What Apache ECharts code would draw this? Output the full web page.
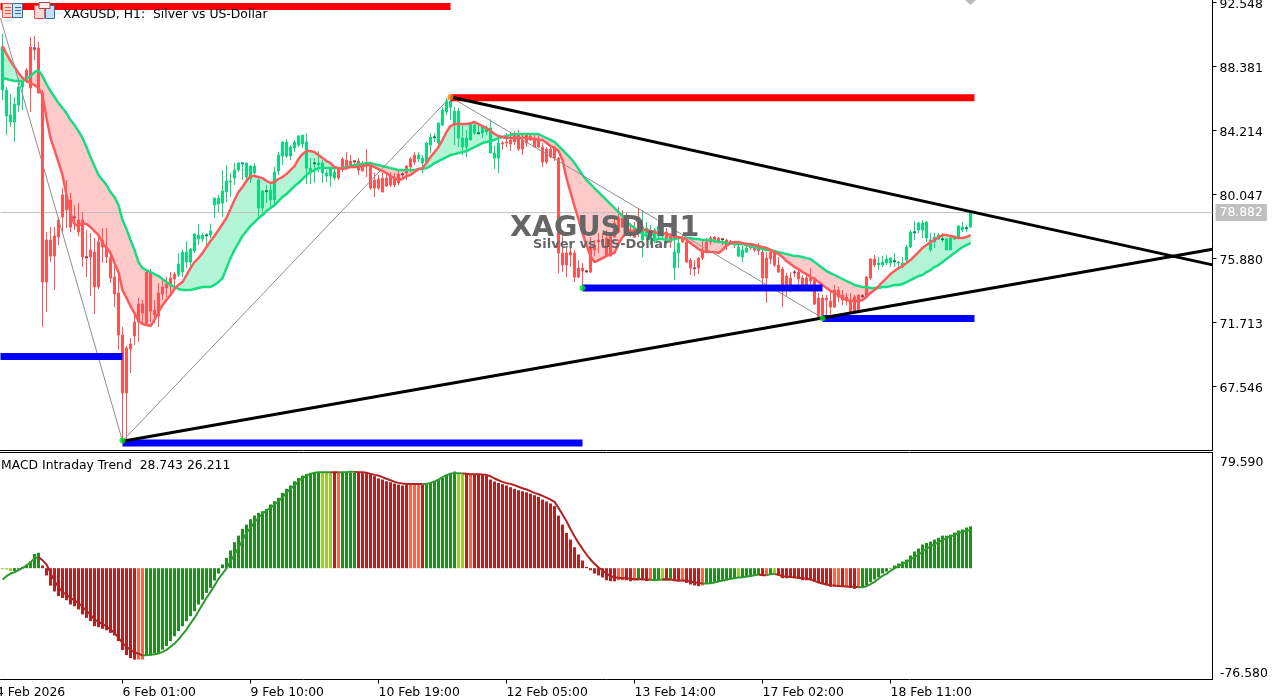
<!DOCTYPE html>
<html><head><meta charset="utf-8">
<style>html,body{margin:0;padding:0;background:#fff}#c{width:1282px;height:700px}</style>
<script src="https://cdn.jsdelivr.net/npm/echarts@6/dist/echarts.min.js"></script>
</head><body><div id="c"></div>
<script>
const opens=[86.86,85.17,84.78,84.78,85.88,87.06,88.16,89.66,89.60,89.60,
86.67,77.10,77.10,77.36,78.40,80.03,80.03,79.70,78.59,78.40,
78.40,75.99,76.45,76.31,76.97,77.10,76.64,75.92,74.69,73.65,
70.91,70.07,70.33,71.76,72.93,72.93,75.01,75.01,72.54,73.65,
74.04,74.23,74.62,74.88,74.82,75.01,75.66,75.66,76.38,77.16,
77.16,77.36,77.42,79.38,79.44,79.50,80.22,80.87,81.13,81.65,
82.04,81.20,81.07,81.46,79.18,79.18,80.22,79.70,79.70,81.59,
82.56,82.56,82.56,83.09,83.28,83.35,81.78,81.46,82.04,81.98,
81.46,81.26,81.26,81.13,81.72,82.37,82.30,82.24,82.24,82.24,
81.91,82.04,81.98,81.00,81.07,81.13,81.13,81.26,81.13,81.39,
81.39,81.91,82.37,82.63,82.37,82.11,82.17,83.28,83.74,83.41,
84.58,85.43,85.75,84.65,83.74,83.15,83.15,83.61,84.06,84.00,
84.06,84.13,82.76,82.43,82.43,83.41,83.48,83.61,83.87,83.93,
83.61,83.93,83.87,83.74,83.54,83.15,83.02,83.02,83.15,82.43,
76.25,76.25,76.31,76.25,75.27,75.27,75.08,76.64,76.77,77.10,
77.03,77.23,77.42,78.20,78.59,78.53,78.20,77.75,77.88,78.59,
77.10,77.55,77.10,77.23,77.36,77.36,77.62,77.42,75.27,76.25,
77.23,76.97,75.79,75.27,75.92,76.45,76.97,77.23,77.29,77.23,
77.16,77.10,77.03,76.97,76.05,75.99,76.31,76.71,76.64,76.58,
76.31,75.92,76.31,76.31,75.47,75.21,74.75,74.62,75.01,75.01,
74.62,74.62,74.62,74.49,73.32,73.32,73.32,73.12,73.84,73.84,
73.52,73.39,73.19,73.39,73.52,73.45,74.69,75.86,75.86,75.47,
75.47,75.60,75.60,75.66,75.60,75.34,75.79,76.64,77.55,77.75,
77.75,77.23,76.45,76.97,77.16,77.10,76.45,76.45,77.16,77.23,
77.75,77.81,77.94];
const highs=[90.51,87.06,86.60,86.41,87.64,87.71,88.29,90.31,90.38,89.99,
86.86,77.62,77.94,77.94,78.59,80.48,81.00,80.16,79.37,79.50,
78.92,77.75,77.55,77.23,77.42,77.88,77.88,76.45,75.47,74.95,
71.43,70.20,70.72,72.34,73.32,73.19,75.14,75.21,73.19,74.30,
74.49,74.69,75.01,75.01,76.25,76.45,77.03,76.57,77.55,78.14,
77.55,77.55,78.14,79.83,80.03,81.65,81.98,81.46,82.11,82.17,
82.11,82.11,81.98,82.11,81.13,80.35,80.68,80.74,81.85,82.82,
83.54,83.67,83.28,83.61,83.93,83.93,84.06,82.43,82.43,82.89,
82.30,81.65,81.85,81.85,81.78,82.50,82.82,82.63,82.24,82.43,
82.24,83.02,82.17,81.46,81.33,81.46,81.46,81.52,81.46,81.65,
81.52,81.98,82.50,82.82,82.82,82.63,83.48,84.06,84.06,84.78,
85.75,86.34,86.41,85.75,85.69,84.58,84.26,84.78,84.71,84.58,
84.58,84.58,84.97,83.28,83.74,83.54,84.06,84.13,84.19,84.26,
84.06,84.06,84.06,84.06,83.93,83.41,83.15,83.15,83.22,82.50,
77.75,76.58,76.64,76.45,75.79,75.60,75.14,77.29,77.10,77.55,
77.55,77.75,77.55,78.59,79.24,79.05,78.85,78.20,78.27,79.18,
79.05,78.27,78.07,77.88,78.40,78.40,77.88,77.55,77.23,77.23,
77.42,77.23,75.92,75.79,75.99,77.10,77.23,77.36,77.36,77.29,
77.23,77.16,77.10,77.03,76.77,76.71,76.71,76.84,76.77,76.90,
76.58,76.31,76.45,76.45,75.99,75.34,74.95,75.01,75.14,75.14,
74.82,74.95,75.27,74.69,73.65,73.52,73.52,73.71,74.17,74.04,
73.84,73.65,73.65,73.52,73.58,73.58,74.75,75.92,76.12,75.99,
76.05,76.12,75.99,76.25,75.73,75.99,76.77,77.75,78.33,78.27,
78.40,78.33,77.55,77.55,77.55,77.55,77.23,77.36,77.42,78.07,
78.27,78.07,78.85];
const lows=[86.21,83.93,84.45,83.48,85.43,85.56,87.32,85.43,88.81,86.60,
71.43,72.41,75.66,73.84,76.77,77.62,77.88,77.62,77.75,77.36,
75.34,74.69,73.45,72.28,73.91,75.60,75.60,74.30,72.73,69.94,
64.01,64.08,68.44,70.26,70.46,71.69,71.56,71.76,71.69,71.43,
73.19,73.39,73.52,73.97,74.69,74.69,75.27,75.34,76.25,76.77,
76.97,76.64,77.23,78.53,78.92,78.59,79.57,79.90,80.68,81.52,
81.00,80.87,80.81,81.20,78.53,78.85,79.50,79.11,79.37,81.33,
81.98,82.43,82.30,82.82,83.15,83.09,80.74,80.74,80.81,81.52,
80.81,80.87,80.55,81.00,81.00,81.52,81.65,81.78,81.78,81.33,
81.59,81.20,80.35,79.90,80.35,80.22,80.55,80.55,80.55,80.68,
81.13,81.00,81.52,81.98,82.17,81.46,81.98,82.76,83.48,83.09,
84.52,85.23,84.91,83.28,83.15,82.63,82.50,83.61,83.93,83.93,
83.74,83.93,82.76,81.72,81.46,82.96,83.15,82.89,83.28,82.89,
82.63,83.15,83.54,83.15,83.09,81.85,82.04,82.43,82.24,74.95,
75.01,74.69,75.34,74.36,74.62,74.17,74.95,74.95,76.05,76.25,
76.58,76.05,76.05,77.23,77.55,77.88,77.62,77.29,77.23,77.29,
75.99,77.10,76.77,76.90,77.10,77.10,76.84,76.58,74.49,75.27,
76.90,75.60,74.82,74.75,74.88,75.79,76.25,76.77,76.90,76.90,
76.77,76.45,76.77,76.58,75.99,75.66,76.25,76.45,76.31,76.12,
74.17,73.00,75.53,75.34,74.95,72.73,73.39,73.71,74.69,74.04,
74.04,73.84,74.10,72.86,72.08,72.02,72.21,72.21,72.67,73.06,
72.86,72.86,72.34,72.34,72.34,73.32,73.32,74.49,75.34,75.14,
75.34,75.47,75.34,75.34,75.14,75.27,75.66,76.58,77.10,77.55,
77.23,76.97,76.31,76.58,77.10,76.97,76.45,76.45,77.10,77.16,
77.62,77.62,77.88];
const closes=[89.66,86.86,85.23,85.95,87.06,87.38,87.58,86.99,89.47,86.67,
74.36,74.36,76.05,76.05,77.29,78.59,79.05,77.94,78.53,77.62,
75.99,75.92,75.99,74.04,74.04,76.64,75.99,74.62,73.58,70.91,
67.14,67.14,70.00,70.85,71.76,72.34,71.69,72.47,72.21,72.15,
73.58,73.97,74.10,74.56,75.53,76.31,76.31,76.51,77.49,77.42,
77.42,77.42,77.68,79.83,79.83,80.29,80.94,80.94,81.65,82.11,
82.11,82.11,81.91,81.91,81.00,80.29,80.29,80.35,81.52,82.63,
83.48,83.48,83.15,83.48,83.87,83.93,83.48,81.78,82.11,82.11,
82.11,81.46,81.78,81.52,81.13,81.85,81.91,81.91,82.17,81.65,
81.59,81.91,80.48,80.48,80.48,80.22,80.61,80.68,80.68,80.81,
81.33,81.46,81.85,82.17,82.63,82.43,83.41,83.80,83.80,84.71,
85.56,86.14,86.14,85.49,85.49,83.74,83.74,84.71,84.58,84.06,
84.45,84.39,84.39,82.76,83.41,83.35,83.41,83.35,83.48,83.02,
83.02,83.41,83.74,83.15,83.15,82.17,82.17,82.50,82.43,76.25,
75.47,75.47,76.12,74.69,74.69,75.08,75.01,75.01,76.45,76.97,
76.97,76.12,76.05,77.29,77.62,77.94,77.94,77.42,77.29,77.62,
77.94,77.88,77.62,77.75,78.01,78.14,77.10,76.97,76.31,76.90,
76.97,75.66,75.27,75.21,75.27,75.92,76.31,76.97,76.97,76.97,
77.10,76.77,76.90,76.77,76.64,76.45,76.58,76.58,76.45,76.38,
74.62,74.62,75.86,75.47,75.01,74.04,74.17,74.17,74.95,74.56,
74.17,74.17,74.43,72.93,72.08,72.15,73.19,72.73,72.73,73.39,
73.19,73.19,72.34,72.34,72.41,73.39,73.39,74.62,75.47,75.60,
75.66,75.86,75.92,75.73,75.66,75.60,76.64,77.62,77.62,78.20,
78.20,78.27,77.10,77.29,77.42,77.16,77.16,77.23,77.29,78.01,
77.94,77.88,78.88];
const fastMA=[89.73,89.21,88.75,88.36,87.97,87.64,87.45,87.32,87.19,86.99,
86.54,85.04,83.74,82.96,82.17,81.33,80.03,78.85,78.14,78.01,
78.20,78.14,77.94,77.68,77.42,76.90,76.58,76.25,75.60,75.01,
73.84,73.32,72.80,72.34,71.82,71.63,71.56,71.50,71.89,72.41,
72.86,73.19,73.52,73.91,74.17,74.36,74.82,75.27,75.66,75.92,
76.25,76.64,77.03,77.36,77.75,78.14,78.53,79.11,79.70,80.22,
80.55,80.94,81.26,81.26,81.20,81.13,80.94,80.81,80.87,81.07,
81.20,81.39,81.65,81.91,82.37,82.69,82.89,82.89,82.82,82.63,
82.43,82.24,82.11,81.85,81.78,81.72,81.78,81.85,81.85,81.85,
81.91,81.98,81.98,81.85,81.72,81.59,81.46,81.26,81.13,81.00,
81.07,81.26,81.33,81.52,81.72,81.78,82.11,82.50,82.82,83.15,
83.61,84.13,84.52,84.65,84.65,84.65,84.65,84.71,84.78,84.65,
84.52,84.39,84.19,84.00,83.87,83.80,83.74,83.74,83.74,83.74,
83.74,83.74,83.67,83.67,83.61,83.61,83.41,83.22,83.09,82.89,
82.30,81.13,80.22,79.31,78.46,77.55,76.77,76.05,75.66,75.79,
75.92,76.05,76.18,76.25,76.84,77.29,77.55,77.62,77.68,77.75,
77.75,77.75,77.68,77.62,77.55,77.55,77.49,77.42,77.29,77.29,
77.23,77.10,76.90,76.71,76.51,76.38,76.31,76.31,76.31,76.25,
76.45,76.71,76.90,76.97,76.97,76.90,76.84,76.84,76.77,76.71,
76.64,76.58,76.45,76.31,76.18,75.99,75.73,75.53,75.34,75.21,
75.01,74.88,74.69,74.56,74.36,74.17,73.97,73.78,73.65,73.52,
73.32,73.19,73.12,73.12,73.12,73.19,73.39,73.65,73.84,74.10,
74.36,74.62,74.88,75.08,75.27,75.40,75.60,75.79,76.05,76.31,
76.58,76.77,76.97,77.10,77.29,77.42,77.42,77.36,77.29,77.23,
77.23,77.29,77.42];
const slowMA=[87.64,87.58,87.51,87.45,87.45,87.45,87.58,87.77,88.03,88.16,
87.77,87.25,86.80,86.41,86.01,85.69,85.36,84.91,84.58,84.19,
83.74,83.15,82.50,81.91,81.33,81.00,80.68,80.22,79.90,79.37,
78.40,77.81,77.10,76.45,75.66,75.27,75.14,75.01,74.88,74.75,
74.56,74.36,74.17,74.04,73.91,73.84,73.84,73.84,73.91,73.97,
74.04,74.04,74.04,74.17,74.36,74.62,75.27,75.92,76.45,76.90,
77.36,77.68,78.01,78.27,78.53,78.72,78.98,79.18,79.37,79.63,
79.90,80.09,80.35,80.61,80.81,81.07,81.33,81.52,81.65,81.78,
81.78,81.78,81.78,81.78,81.78,81.78,81.85,81.91,81.98,82.04,
82.04,82.11,82.11,82.04,81.98,81.91,81.85,81.78,81.72,81.65,
81.65,81.65,81.65,81.65,81.72,81.72,81.78,81.91,82.11,82.24,
82.37,82.50,82.63,82.69,82.76,82.82,82.89,83.02,83.15,83.28,
83.41,83.48,83.54,83.61,83.74,83.80,83.87,83.93,84.00,84.00,
84.00,84.00,84.00,84.00,84.00,83.87,83.74,83.61,83.48,83.22,
82.96,82.69,82.43,82.11,81.72,81.33,81.00,80.74,80.48,80.22,
79.96,79.70,79.44,79.18,78.92,78.66,78.33,78.07,77.88,77.68,
77.49,77.36,77.16,77.10,77.16,77.16,77.10,77.10,77.16,77.23,
77.23,77.23,77.23,77.16,77.16,77.10,77.10,77.10,77.03,76.97,
76.97,76.90,76.90,76.84,76.84,76.84,76.77,76.71,76.64,76.58,
76.51,76.45,76.45,76.38,76.31,76.25,76.18,76.12,76.05,76.05,
75.99,75.92,75.86,75.66,75.47,75.27,75.08,74.95,74.82,74.69,
74.56,74.43,74.30,74.17,74.10,74.04,74.04,73.97,73.97,73.97,
74.04,74.04,74.10,74.17,74.17,74.23,74.36,74.49,74.62,74.75,
74.82,75.01,75.14,75.34,75.47,75.66,75.86,76.05,76.25,76.45,
76.64,76.77,76.90];
const macdHist=[-0.7,-0.9,-1.9,-1.9,-0.9,0.9,2.5,4.7,9.8,10.6,
1.8,-5,-12,-16,-19.2,-20.5,-22,-25,-26.2,-28.4,
-31.8,-34.2,-36.4,-39.9,-40.6,-41.7,-42.7,-44.5,-46.3,-50.2,
-56.4,-59.8,-61.9,-62.9,-62.9,-62.9,-60.5,-60.1,-58.7,-58.3,
-56,-53.6,-50.2,-46.8,-43.3,-39.9,-36.5,-33,-29.6,-25,
-21.6,-17,-13.5,-8.5,-3.7,2.5,7.1,12.2,17.9,22.4,
27.1,30,33.7,36.2,38.1,39.2,40.8,43.8,46.1,48.4,
51.8,54.6,56.9,59.8,62.1,63.7,64.9,65.6,65.6,65.6,
65.6,65.6,65.6,65.6,65.6,65.6,65.6,65.6,65.6,65.6,
65.4,65.4,65.1,63.3,61.7,61,59.8,59.1,58.2,57.5,
56.9,57.3,57.3,57.3,57.3,57.3,57.8,58.7,59.6,61,
62.1,64.2,65.6,66.5,64.7,64.7,64.7,64.7,64.7,64.4,
64.2,63.7,61,59.6,58.7,57.8,56.9,55.7,54.6,53.6,
52.9,52.2,51.3,50.2,49.1,47.2,45.9,44.5,42.7,36.2,
30,24.3,19.7,14.4,9.4,5.3,0.9,-1.4,-3.7,-5,
-6.4,-8.3,-9,-9,-8.3,-8.3,-8.3,-9,-8.5,-7.8,
-8.3,-8.9,-8.3,-8.7,-8.3,-7.1,-7.8,-7.8,-8.9,-9.2,
-9.2,-10.1,-11.2,-11.9,-12.4,-11.9,-10.5,-10.5,-10.1,-9.4,
-8.5,-8.3,-7.8,-7.1,-6.6,-6.4,-6.2,-5.9,-5,-4.4,
-4.8,-4.4,-3.9,-3.4,-5,-6.9,-6.9,-6.6,-6.9,-7.3,
-8.3,-8.3,-8,-9.2,-10.1,-11,-11.7,-12.8,-12.8,-12.8,
-12.8,-13.1,-13.5,-14.2,-13.1,-12.8,-11.9,-9.6,-7.8,-6.2,
-3.7,-2.3,-0.4,1.8,3.2,4.6,5.9,8.7,11.5,13.5,
16.3,17.4,18.3,19.7,20.9,22.4,22.4,23.1,24.5,25.9,
26.6,28,28.743];
const macdLine=[-7.8,-5.5,-3.7,-2.8,-1.4,0,1.8,4,6.9,7.6,
5.5,2.5,-3.2,-8.9,-13,-16.5,-18.3,-20.4,-22.2,-24,
-26.6,-29.3,-32,-35.3,-36.9,-38.5,-40.1,-42.2,-44.5,-47.9,
-51.4,-54.1,-56.2,-57.8,-58.9,-60,-59.8,-59.6,-59.2,-58.7,
-57.6,-56.2,-54.1,-51.8,-49,-45.6,-42.2,-38,-34.2,-29.6,
-25,-20.4,-16.3,-12,-7.3,-3.7,-0.2,4.8,9.4,14,
19.3,24.3,27.7,31.6,34.6,37.4,39.7,41.5,43.8,46,
48.8,51.8,54.6,56.9,59.8,62,63.7,64.9,65.6,66,
66,66,66,66,66,66,66,66.3,66.3,66,
66,65.6,64.9,64.2,63.7,62.6,61.5,60.5,59.4,58.7,
58.2,58,58,58,58,58,58,58.7,59.6,61,
62.6,64,64.9,65.4,65.4,65.1,64.9,64.7,64.7,64.7,
64.4,64.2,63.3,61.7,60.5,59.4,58.5,58,57.1,56,
55,54.1,53,51.8,50.9,49.8,48.6,47.2,45.6,41.5,
36.9,32.3,27,22,17.4,13.3,9.4,6,3,0.5,
-1.4,-3.7,-5.5,-6.2,-6.6,-6.9,-6.9,-7.3,-7.6,-7.6,
-7.6,-7.8,-8,-8.3,-8,-7.8,-7.6,-7.8,-8.3,-8.5,
-8.5,-8.7,-9.2,-9.9,-10.1,-10.5,-10.5,-10.3,-9.9,-9.2,
-8.5,-8,-7.3,-6.9,-6.4,-6.2,-5.7,-5.3,-4.8,-4.4,
-4.8,-4.8,-4.1,-3.9,-4.6,-5.5,-5.7,-6,-6.2,-6.6,
-6.9,-7.1,-7.8,-8.7,-9.9,-10.5,-11.2,-11.7,-11.9,-12.2,
-12.4,-12.6,-12.8,-12.8,-13.1,-13.1,-12.4,-11,-9.4,-7.3,
-5.3,-3.9,-1.8,-0.2,1.4,3,4.4,6,7.6,9.2,
11.5,13.3,15.1,16.3,17.9,19.3,20.9,21.8,22.9,24.1,
25.2,25.8,26.211];
const histColorRuns=[['L',3],['G',7],['R',24],['T',2],['G',44],['L',3],['R',1],['T',1],['G',4],['R',13],['T',3],['R',1],['G',8],['L',2],['R',1],['T',1],['R',36],['T',2],['R',2],['T',1],['G',1],['R',2],['T',1],['G',2],['L',1],['R',1],['G',1],['R',2],['T',1],['R',4],['T',1],['G',8],['L',1],['G',5],['R',1],['T',1],['G',1],['L',1],['R',14],['T',2],['R',1],['T',1],['R',2],['T',1],['G',28]];
const priceTicks=[92.548,88.381,84.214,80.047,75.880,71.713,67.546];
const macdTicks=[79.590,-76.580];
const lastPrice=78.882;
const timeTicks={30:'6 Feb 01:00',62:'9 Feb 10:00',94:'10 Feb 19:00',126:'12 Feb 05:00',158:'13 Feb 14:00',190:'17 Feb 02:00',222:'18 Feb 11:00'};
const firstTimeLabel='4 Feb 2026';
const zigzag=[[-0.5,91.55],[30,64.01],[112,86.41],[205,72.02]];
const upperTrend=[[112,86.41],[302.5,75.48]];
const lowerTrend=[[30,64.0],[302.5,76.50]];
const resistanceLevels=[[[-0.5,92.30],[112,92.30]],[[112,86.36],[243,86.36]]];
const supportLevels=[[[-0.5,69.51],[30,69.51]],[[30,63.88],[145,63.88]],[[145,73.97],[205,73.97]],[[205,71.99],[243,71.99]]];
const greenPivots=[[30,64.05],[145,73.97],[205,72.0]];
const orangePivots=[[112,86.41]];
const dojiBlue=[[8,89.60],[18,78.59],[60,82.11],[150,77.03],[173,75.27],[198,75.01]];
const dojiBlack=[[21,75.99],[51,77.42],[66,80.29],[78,82.11],[88,82.24],[100,81.39],[108,83.80],[119,84.06],[146,75.08],[180,77.16],[215,73.45],[223,75.73],[228,77.62],[235,77.16],[241,77.88]];
const titleText='XAGUSD, H1:  Silver vs US-Dollar';
const macdTitle='MACD Intraday Trend  28.743 26.211';
const watermark='XAGUSD,H1';
const watermarkSub='Silver vs US-Dollar';

const SLOTS=303, FONT='"DejaVu Sans",sans-serif', FS=12.4;
const UP='#0BD97A',DOWN='#FF5252',FAST='#FF5A5A',SLOW='#16DC82';
const PAL={G:'#228B22',L:'#9ACD32',R:'#B22222',T:'#FF6347'};
const keys=[];histColorRuns.forEach(([k,n])=>{for(let j=0;j<n;j++)keys.push(k)});
const cats=Array.from({length:SLOTS},(_,i)=>timeTicks[i]||String(i));
const candle=opens.map((o,i)=>[o,closes[i],lows[i],highs[i]]);
const isGreen=k=>k==='G'||k==='L';
const gLine=macdLine.map((v,i)=>(isGreen(keys[i])||(i<keys.length-1&&isGreen(keys[i+1])))?v:null);
const rLine=macdLine.map((v,i)=>(!isGreen(keys[i])||(i<keys.length-1&&!isGreen(keys[i+1])))?v:null);
const band=fastMA.slice(0,-1).map((f,i)=>[i,f,slowMA[i],fastMA[i+1],slowMA[i+1]]);
const lineS=(name,data,color,width,z,extra)=>Object.assign({name,type:'line',xAxisIndex:2,yAxisIndex:0,data,symbol:'none',silent:true,animation:false,z,lineStyle:{color,width,cap:'butt'}},extra||{});
const dash=(name,data,color)=>({type:'scatter',name,xAxisIndex:2,yAxisIndex:0,data,symbol:'rect',symbolSize:[3,1],itemStyle:{color},z:4,silent:true,animation:false});

const series=[
 {type:'custom',name:'band',xAxisIndex:0,yAxisIndex:0,z:1,silent:true,animation:false,data:band,encode:{x:0,y:1},
  renderItem:(p,api)=>{const a=api.coord([api.value(0),api.value(1)]),b=api.coord([api.value(0)+1,api.value(3)]),c=api.coord([api.value(0)+1,api.value(4)]),d=api.coord([api.value(0),api.value(2)]);
   const col=(api.value(1)+api.value(3))>(api.value(2)+api.value(4))?'#B2F5D6':'#FFC9C9';
   return {type:'polygon',shape:{points:[a,b,c,d]},style:{fill:col,stroke:col,lineWidth:0.6}};}},
 lineS('last',[[-0.5,lastPrice],[302.5,lastPrice]],'#C0C0C0',1,2,{endLabel:{show:true,formatter:()=>lastPrice.toFixed(3),color:'#fff',backgroundColor:'#C0C0C0',padding:[3,4,2,4],fontFamily:FONT,fontSize:FS,distance:3}}),
 {type:'candlestick',name:'XAGUSD',xAxisIndex:0,yAxisIndex:0,data:candle,barWidth:3,z:3,silent:true,animation:false,
  itemStyle:{color:UP,color0:DOWN,borderColor:UP,borderColor0:DOWN,borderWidth:1}},
 dash('dojiBlue',dojiBlue,'#2020D0'),
 dash('dojiBlack',dojiBlack,'#101010'),
 {type:'line',name:'slow',xAxisIndex:0,yAxisIndex:0,data:slowMA,symbol:'none',z:4,silent:true,animation:false,lineStyle:{color:SLOW,width:2.5}},
 {type:'line',name:'fast',xAxisIndex:0,yAxisIndex:0,data:fastMA,symbol:'none',z:5,silent:true,animation:false,lineStyle:{color:FAST,width:2.5}},
 lineS('zigzag',zigzag,'#8E8E8E',1,6),
];
resistanceLevels.forEach((d,i)=>series.push(lineS('res'+i,d,'#FF0000',7,7)));
supportLevels.forEach((d,i)=>series.push(lineS('sup'+i,d,'#0000FF',7,7)));
series.push(lineS('upper',upperTrend,'#000',3,8),lineS('lower',lowerTrend,'#000',3,8));
series.push({type:'scatter',name:'gp',xAxisIndex:2,yAxisIndex:0,data:greenPivots,symbolSize:6,itemStyle:{color:'#00E020'},z:9,silent:true,animation:false});
series.push({type:'scatter',name:'op',xAxisIndex:2,yAxisIndex:0,data:orangePivots,symbolSize:6,itemStyle:{color:'#FF9000'},z:9,silent:true,animation:false});
series.push({type:'bar',name:'hist',xAxisIndex:1,yAxisIndex:1,barWidth:3,z:3,silent:true,animation:false,
  data:macdHist.map((v,i)=>({value:v,itemStyle:{color:PAL[keys[i]]}}))});
series.push({type:'line',name:'sigG',xAxisIndex:1,yAxisIndex:1,data:gLine,symbol:'none',z:4,silent:true,animation:false,lineStyle:{color:'#2E9A2E',width:2}});
series.push({type:'line',name:'sigR',xAxisIndex:1,yAxisIndex:1,data:rLine,symbol:'none',z:4,silent:true,animation:false,lineStyle:{color:'#B22222',width:2}});

const text=(x,y,t,fs,w,fam,extra)=>({type:'text',x,y,z:50,silent:true,style:Object.assign({text:t,fill:'#000',font:`${w||'normal'} ${fs}px ${fam||FONT}`,verticalAlign:'middle'},extra||{})});
const rect=(x,y,w,h,fill,stroke)=>({type:'rect',shape:{x,y,width:w,height:h},z:49,silent:true,style:{fill,stroke,lineWidth:stroke?1:0}});
const graphic=[
 {type:'line',shape:{x1:0,y1:452.5,x2:1213,y2:452.5},z:40,silent:true,style:{stroke:'#000',lineWidth:1}},
 {type:'polygon',shape:{points:[[965,0],[970.5,5],[976,0]]},z:40,silent:true,style:{fill:'#BDBDBD'}},
 rect(2.5,3.5,10,14,'#FBD5D0','#E0564A'),rect(12.5,3.5,10,14,'#CFE6F7','#2A6FB0'),
 rect(5,7,6,1,'#E0564A'),rect(5,10,6,1,'#E0564A'),rect(5,13,6,1,'#E0564A'),rect(15,7,6,1,'#2A6FB0'),rect(15,10,6,1,'#2A6FB0'),rect(15,13,6,1,'#2A6FB0'),
 rect(34.5,5.5,10,13,'#FBD5D0','#E0564A'),rect(45.5,5.5,9,13,'#BFE0F7','#2A6FB0'),rect(39,2.5,11,6,'#F0F0F0','#B04040'),
 text(63,15,titleText,FS),
 text(1,466,macdTitle,FS),
 text(-4,692.5,firstTimeLabel,FS),
 text(510,229,watermark,28.5,'bold',FONT,{fill:'#666666',blend:'multiply'}),
 text(533,245,watermarkSub,13,'bold',FONT,{fill:'#666666',blend:'multiply'}),
 text(1220,463,macdTicks[0].toFixed(3),FS),
 text(1220,674,macdTicks[1].toFixed(3),FS),
];
const tickShow=(i)=>timeTicks[i]!==undefined;
const opt={
 animation:false,backgroundColor:'#fff',
 grid:[{left:0.5,top:0,width:1212,height:450,outerBoundsMode:'none'},{left:0.5,top:452.5,width:1212,height:227,outerBoundsMode:'none'}],
 xAxis:[
  {type:'category',gridIndex:0,data:cats,axisLine:{show:true,onZero:false,lineStyle:{color:'#000',width:1}},axisTick:{show:false},axisLabel:{show:false},splitLine:{show:false}},
  {type:'category',gridIndex:1,data:cats,position:'bottom',axisLine:{show:true,onZero:false,lineStyle:{color:'#000',width:1}},
   axisTick:{show:true,alignWithLabel:true,length:4,interval:tickShow,lineStyle:{color:'#000'}},
   axisLabel:{show:true,interval:tickShow,formatter:v=>v,align:'left',margin:7,color:'#000',fontFamily:FONT,fontSize:FS,hideOverlap:false},splitLine:{show:false}},
  {type:'value',gridIndex:0,show:false,min:-0.5,max:302.5,splitLine:{show:false}}
 ],
 yAxis:[
  {type:'value',gridIndex:0,position:'right',min:63.427,max:92.724,scale:true,
   axisLine:{show:true,onZero:false,lineStyle:{color:'#000'}},splitLine:{show:false},
   axisTick:{show:true,length:4,customValues:priceTicks,lineStyle:{color:'#000'}},
   axisLabel:{show:true,customValues:priceTicks,formatter:v=>'{p|'+v.toFixed(3)+'}',margin:7,rich:{p:{color:'#000',fontFamily:FONT,fontSize:FS,padding:[4,0,0,0]}}}},
  {type:'value',gridIndex:1,position:'right',min:-76.58,max:79.59,
   axisLine:{show:true,onZero:false,lineStyle:{color:'#000'}},splitLine:{show:false},
   axisTick:{show:false},axisLabel:{show:false}}
 ],
 series,graphic
};
echarts.init(document.getElementById('c'),null,{renderer:'canvas'}).setOption(opt);
</script></body></html>
